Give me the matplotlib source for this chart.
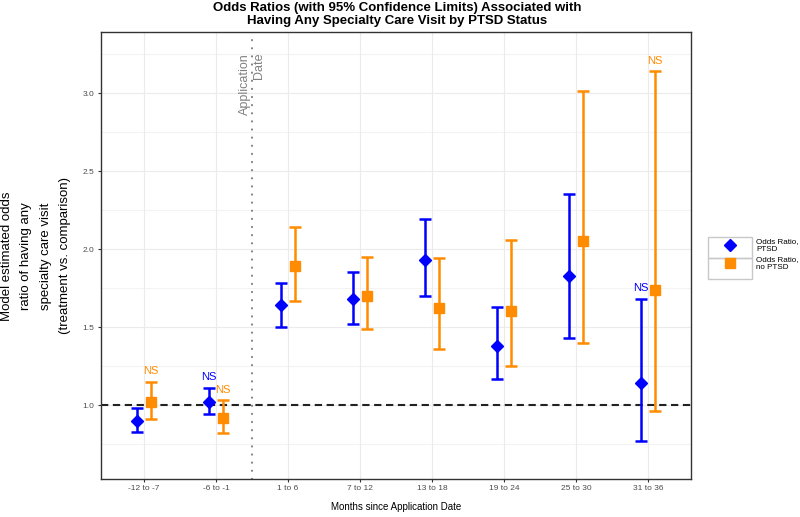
import numpy as np
import matplotlib
matplotlib.use('Agg')
import matplotlib.pyplot as plt
from matplotlib.patches import Rectangle

periods = ['-12 to -7', '-6 to -1', '1 to 6', '7 to 12', '13 to 18', '19 to 24', '25 to 30', '31 to 36']

ptsd_or = [0.90, 1.02, 1.64, 1.68, 1.93, 1.38, 1.83, 1.14]
ptsd_lo = [0.83, 0.94, 1.50, 1.52, 1.70, 1.17, 1.43, 0.77]
ptsd_hi = [0.98, 1.11, 1.78, 1.85, 2.19, 1.63, 2.35, 1.68]
ptsd_ns = [False, True, False, False, False, False, False, True]

noptsd_or = [1.02, 0.92, 1.89, 1.70, 1.62, 1.60, 2.05, 1.74]
noptsd_lo = [0.91, 0.82, 1.67, 1.49, 1.36, 1.25, 1.40, 0.96]
noptsd_hi = [1.15, 1.03, 2.14, 1.95, 1.94, 2.06, 3.01, 3.14]
noptsd_ns = [True, True, False, False, False, False, False, True]

blue = '#0000FF'
orange = '#FF8C00'
FONT = 'Liberation Sans'

fig = plt.figure(figsize=(8, 5.17), dpi=100)
ax = fig.add_axes([0.126, 0.0735, 0.738, 0.8645])

x = np.arange(len(periods))
dodge = 0.1

# light grid like ggplot theme_bw
for v in np.arange(0.75, 3.4, 0.25):
    minor = abs((v / 0.5) - round(v / 0.5)) > 0.01
    ax.axhline(v, color='#f3f3f3' if minor else '#ebebeb', lw=0.8, zorder=0)
for xi in x:
    ax.axvline(xi, color='#ebebeb', lw=0.8, zorder=0)

ax.axhline(1.0, color='#222222', lw=1.5, ls=(0, (3.5, 2.2)), zorder=1)
ax.axvline(1.5, color='#808080', lw=1.5, ls=(0, (0.1, 3.8)), dash_capstyle='round', zorder=1)
ax.text(1.5, 3.06, 'Application\nDate', rotation=90, ha='center', va='center',
        multialignment='right', color='#808080', fontsize=9, family=FONT, linespacing=1.25)

def draw(xs, est, lo, hi, color, marker, ms, ns, label):
    est = np.array(est)
    err = [est - np.array(lo), np.array(hi) - est]
    ax.errorbar(xs, est, yerr=err, fmt=marker, color=color, ms=ms, elinewidth=1.8,
                capsize=4.5, capthick=1.8, label=label, zorder=3)
    for xi, h, n in zip(xs, hi, ns):
        if n:
            ax.annotate('NS', (xi, h), xytext=(0, 4), textcoords='offset points',
                        ha='center', va='bottom', color=color, fontsize=8,
                        family=FONT)

draw(x - dodge, ptsd_or, ptsd_lo, ptsd_hi, blue, 'D', 6, ptsd_ns, 'Odds Ratio,\nPTSD')
draw(x + dodge, noptsd_or, noptsd_lo, noptsd_hi, orange, 's', 7.5, noptsd_ns, 'Odds Ratio,\nno PTSD')

ax.set_xlim(-0.6, 7.6)
ax.set_ylim(0.526, 3.391)
ax.set_xticks(x)
ax.set_xticklabels(periods, family=FONT)
ax.set_yticks([1.0, 1.5, 2.0, 2.5, 3.0])
ax.set_yticklabels(['1.0', '1.5', '2.0', '2.5', '3.0'], family=FONT)
ax.tick_params(labelsize=6, labelcolor='#4d4d4d', color='#333333', length=2.5, width=0.8, pad=2)
for s in ax.spines.values():
    s.set_color('#333333')
    s.set_linewidth(1.0)

fig.text(396 / 800, 1 - 507 / 517, 'Months since Application Date', fontsize=7,
         family=FONT, ha='center', va='center')
fig.text(36 / 800, 1 - 256 / 517,
         'Model estimated odds\nratio of having any\nspecialty care visit\n(treatment vs. comparison)',
         rotation=90, fontsize=9.5, family=FONT, ha='center', va='center', linespacing=1.8)
fig.text(397 / 800, 1 - 14.5 / 517,
         'Odds Ratios (with 95% Confidence Limits) Associated with\nHaving Any Specialty Care Visit by PTSD Status',
         fontsize=9.5, fontweight='bold', family=FONT, ha='center', va='center', linespacing=1.12)

h, l = ax.get_legend_handles_labels()
h = [hh[0] for hh in h]
leg = fig.legend(h, l, loc='upper left', bbox_to_anchor=(708 / 800, 1 - 238 / 517), frameon=False,
                 borderaxespad=0, borderpad=0, handlelength=5.46, handletextpad=0.5,
                 labelspacing=0.45, prop={'family': FONT, 'size': 5.8})
for t in leg.get_texts():
    t.set_linespacing(1.1)

# key boxes
for top in [237, 258]:
    fig.patches.append(Rectangle((708 / 800, 1 - (top + 21) / 517), 44 / 800, 21 / 517,
                                 transform=fig.transFigure, fill=False, ec='#c8c8c8', lw=1))

fig.savefig('out.png', dpi=100)
